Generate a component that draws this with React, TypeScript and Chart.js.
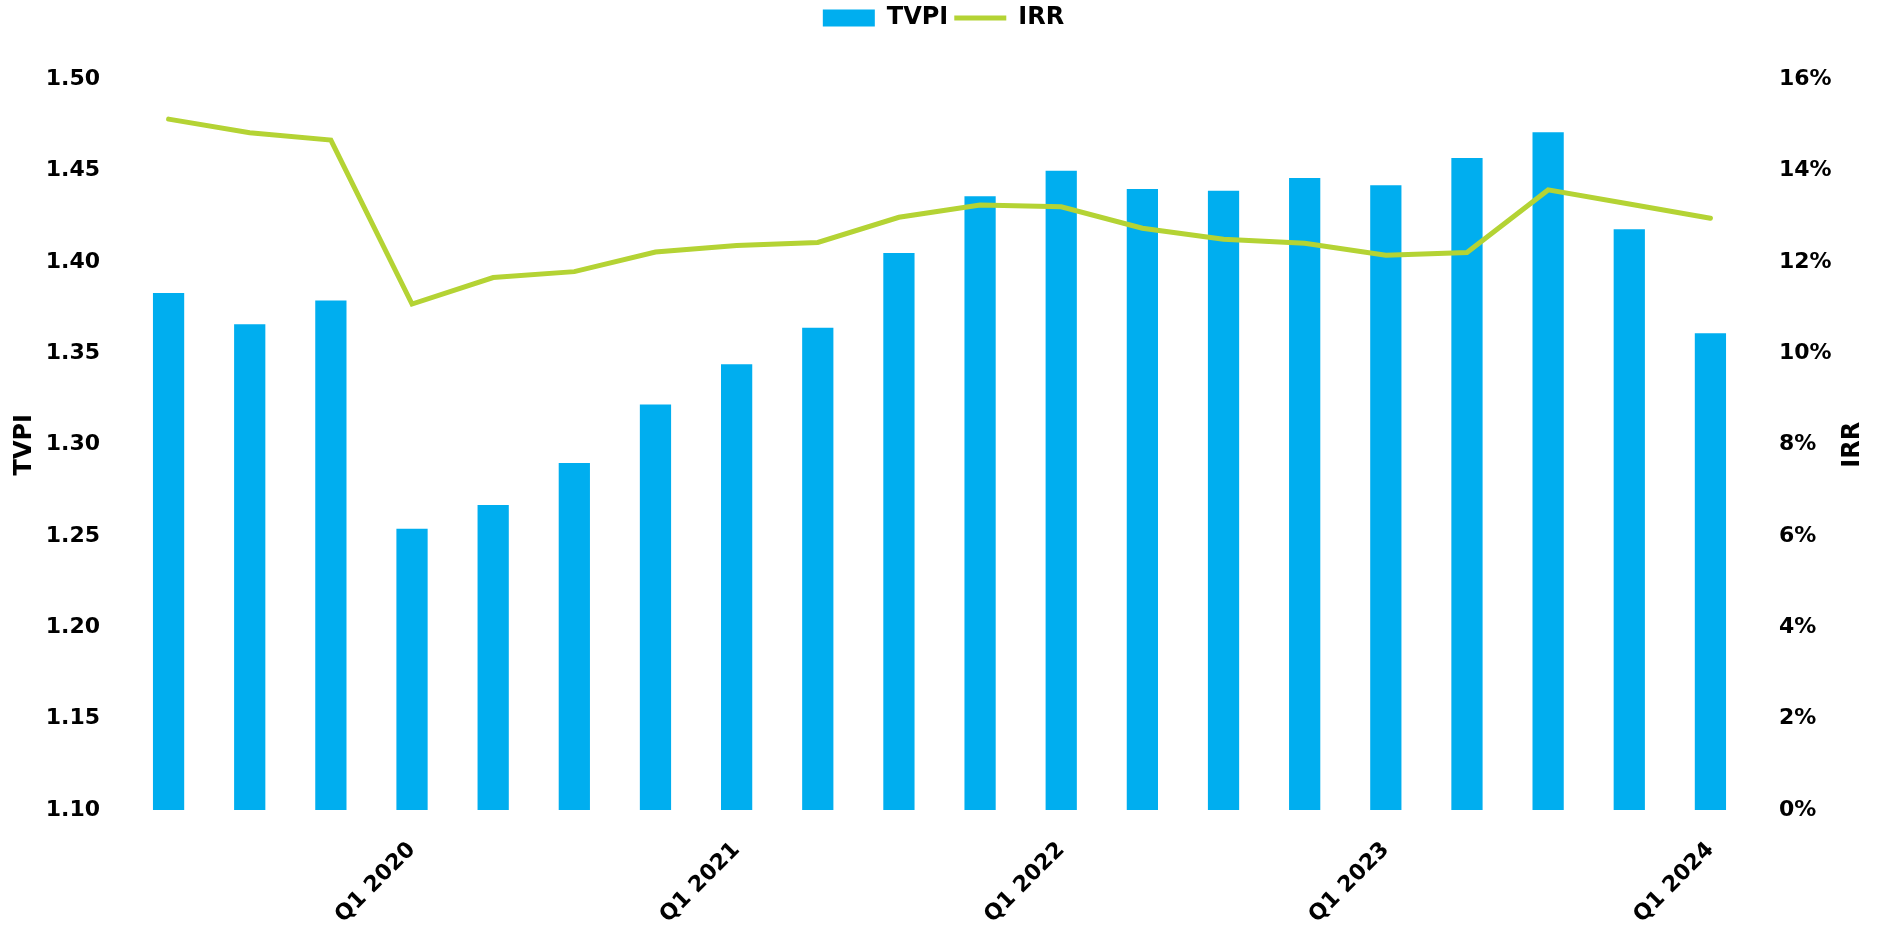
import React, { useEffect, useRef } from "react";
import { Chart, registerables } from "chart.js";

Chart.register(...registerables);

const categories = [
  "Q2 2019", "Q3 2019", "Q4 2019",
  "Q1 2020", "Q2 2020", "Q3 2020", "Q4 2020",
  "Q1 2021", "Q2 2021", "Q3 2021", "Q4 2021",
  "Q1 2022", "Q2 2022", "Q3 2022", "Q4 2022",
  "Q1 2023", "Q2 2023", "Q3 2023", "Q4 2023",
  "Q1 2024",
];

const tvpiValues = [
  1.383, 1.366, 1.379, 1.254, 1.267, 1.290, 1.322, 1.344, 1.364, 1.405,
  1.436, 1.450, 1.440, 1.439, 1.446, 1.442, 1.457, 1.471, 1.418, 1.361,
];

const irrValues = [
  15.13, 14.83, 14.67, 11.08, 11.66, 11.79, 12.22, 12.36, 12.43, 12.98,
  13.25, 13.21, 12.74, 12.50, 12.41, 12.15, 12.21, 13.58, 13.27, 12.96,
];

const rightTitle = "IRR";

const BLUE = "#00AEEF";
const GREEN = "#B4D334";
const FONT = "'DejaVu Sans', sans-serif";

export default function App() {
  const ref = useRef<HTMLCanvasElement | null>(null);

  useEffect(() => {
    if (!ref.current) return;
    const legendGap = {
      id: "legendGap",
      beforeInit(chart: any) {
        const legend = chart.legend;
        if (!legend) return;
        const orig = legend.fit;
        legend.fit = function () {
          orig.call(this);
          this.height += 39.4;
        };
      },
    };
    const rightAxisTitle = {
      id: "rightAxisTitle",
      afterDraw(chart: any) {
        const ctx = chart.ctx;
        const area = chart.chartArea;
        ctx.save();
        ctx.translate(1853, (area.top + area.bottom) / 2);
        ctx.rotate(-Math.PI / 2);
        ctx.font = `bold 24px ${FONT}`;
        ctx.fillStyle = "#000";
        ctx.textAlign = "center";
        ctx.textBaseline = "middle";
        ctx.fillText(rightTitle, 0, 0);
        ctx.restore();
      },
    };
    const chart = new Chart(ref.current, {
      type: "bar",
      data: {
        labels: categories,
        datasets: [
          {
            type: "bar",
            label: "TVPI",
            data: tvpiValues,
            backgroundColor: BLUE,
            borderWidth: 0,
            yAxisID: "y",
            order: 2,
            categoryPercentage: 1,
            barPercentage: 0.385,
            pointStyle: "rect",
          } as any,
          {
            type: "line",
            label: "IRR",
            data: irrValues,
            borderColor: GREEN,
            backgroundColor: GREEN,
            borderWidth: 5,
            borderCapStyle: "round",
            pointRadius: 0,
            tension: 0,
            yAxisID: "y1",
            order: 1,
            pointStyle: "line",
          } as any,
        ],
      },
      options: {
        animation: false,
        responsive: false,
        maintainAspectRatio: false,
        layout: { padding: 0 },
        plugins: {
          legend: {
            display: true,
            position: "top",
            labels: {
              usePointStyle: true,
              pointStyleWidth: 52,
              boxHeight: 17,
              padding: 6,
              color: "#000",
              font: { family: FONT, size: 24, weight: "bold" },
              sort: (a: any, b: any) => a.datasetIndex - b.datasetIndex,
            },
          },
          tooltip: { enabled: false },
        },
        scales: {
          x: {
            grid: { display: false, drawTicks: false },
            border: { display: false },
            ticks: {
              autoSkip: false,
              maxRotation: 45,
              minRotation: 45,
              padding: 27,
              color: "#000",
              font: { family: FONT, size: 22, weight: "bold" },
              callback: function (this: any, value: any) {
                const lab = categories[value as number];
                return lab && lab.startsWith("Q1") ? lab : "";
              },
            },
            afterFit(scale: any) {
              scale.height = 117;
            },
          },
          y: {
            position: "left",
            min: 1.1,
            max: 1.5,
            grid: { display: false, drawTicks: false },
            border: { display: false },
            ticks: {
              stepSize: 0.05,
              padding: 28,
              color: "#000",
              font: { family: FONT, size: 22, weight: "bold" },
              callback: (v: any) => Number(v).toFixed(2),
            },
            title: {
              display: true,
              text: "TVPI",
              color: "#000",
              padding: { top: 10, bottom: 0 },
              font: { family: FONT, size: 24, weight: "bold" },
            },
            afterFit(scale: any) {
              scale.width = 128;
            },
          },
          y1: {
            position: "right",
            min: 0,
            max: 16,
            grid: { display: false, drawTicks: false },
            border: { display: false },
            ticks: {
              stepSize: 2,
              padding: 28,
              color: "#000",
              font: { family: FONT, size: 22, weight: "bold" },
              callback: (v: any) => `${v}%`,
            },
            title: { display: false },
            afterFit(scale: any) {
              scale.width = 136;
            },
          },
        },
      } as any,
      plugins: [legendGap, rightAxisTitle],
    });
    return () => chart.destroy();
  }, []);

  return (
    <div style={{ position: "fixed", left: 0, top: 0, width: 1887, height: 927, background: "#fff" }}>
      <canvas ref={ref} width={1887} height={927} style={{ width: 1887, height: 927 }} />
    </div>
  );
}
